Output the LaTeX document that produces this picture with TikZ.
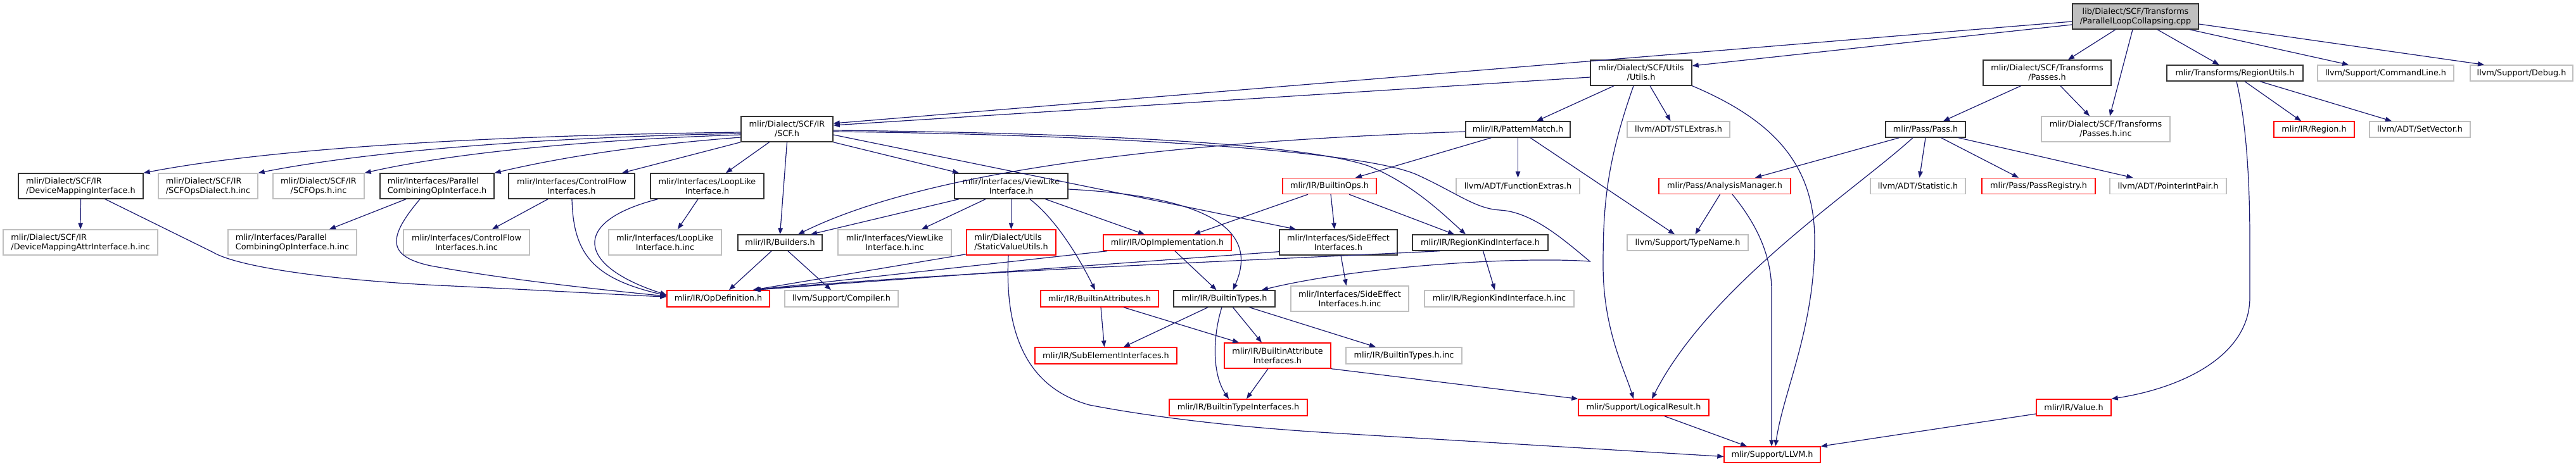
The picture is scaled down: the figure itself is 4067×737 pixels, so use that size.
\documentclass[tikz,border=0pt]{standalone}
\usepackage{fontspec}
\setmainfont{DejaVu Sans}
\usetikzlibrary{arrows.meta}
\definecolor{mblue}{HTML}{191970}
\definecolor{gborder}{HTML}{BFBFBF}
\newcommand{\fsz}{\fontsize{12.8pt}{15pt}\selectfont}
\newcommand{\mknode}[7]{\node[#1,minimum width=#5pt,minimum height=#6pt] (#2) at (#3,#4) {#7};}
\tikzset{
  basebox/.style={rectangle, inner sep=0pt, font=\fsz, text=black, line width=1.4pt, align=center},
  nb/.style={basebox, draw=black!80},
  ng/.style={basebox, draw=gborder},
  nr/.style={basebox, draw=red},
  nm/.style={basebox, draw=black!80, fill=gborder},
  lft/.style={align=left},
  edge/.style={draw=mblue, line width=1.2pt, -{Triangle[length=10pt,width=7.5pt]}},
}
\begin{document}
\begin{tikzpicture}[x=1pt,y=-1pt]
\fill[white] (0,0) rectangle (4067,737);
\useasboundingbox (0,0) rectangle (4067,737);
% rank 0
\mknode{nm}{main}{3371.5}{26}{199}{40}{lib/Dialect/SCF/Transforms\\/ParallelLoopCollapsing.cpp}
% rank 1
\mknode{nb}{utils}{2591}{115}{160}{40}{mlir/Dialect/SCF/Utils\\/Utils.h}
\mknode{nb}{passes}{3232}{115}{202}{40}{mlir/Dialect/SCF/Transforms\\/Passes.h}
\mknode{nb}{regutils}{3528.5}{115.5}{215}{25}{mlir/Transforms/RegionUtils.h}
\mknode{ng}{cmdline}{3766.5}{115.5}{215}{25}{llvm/Support/CommandLine.h}
\mknode{ng}{debug}{3981}{115.5}{162}{25}{llvm/Support/Debug.h}
% rank 2
\mknode{nb}{scf}{1242.5}{204}{145}{40}{mlir/Dialect/SCF/IR\\/SCF.h}
\mknode{nb}{pmatch}{2396.5}{204.5}{165}{25}{mlir/IR/PatternMatch.h}
\mknode{ng}{stl}{2650}{204.5}{162}{25}{llvm/ADT/STLExtras.h}
\mknode{nb}{pass}{3040}{204.5}{126}{25}{mlir/Pass/Pass.h}
\mknode{ng}{passinc}{3324.5}{204}{203}{40}{mlir/Dialect/SCF/Transforms\\/Passes.h.inc}
\mknode{nr}{region}{3653.5}{204.5}{127}{25}{mlir/IR/Region.h}
\mknode{ng}{setvec}{3820.5}{204.5}{159}{25}{llvm/ADT/SetVector.h}
% rank 3
\mknode{nb,lft}{devmap}{127.5}{294}{197}{40}{mlir/Dialect/SCF/IR\\/DeviceMappingInterface.h}
\mknode{ng,lft}{opsdialect}{328.5}{294}{157}{40}{mlir/Dialect/SCF/IR\\/SCFOpsDialect.h.inc}
\mknode{ng}{scfops}{503}{294}{144}{40}{mlir/Dialect/SCF/IR\\/SCFOps.h.inc}
\mknode{nb,lft}{parcomb}{690}{294}{180}{40}{mlir/Interfaces/Parallel\\CombiningOpInterface.h}
\mknode{nb}{ctrlflow}{902.5}{294}{199}{40}{mlir/Interfaces/ControlFlow\\Interfaces.h}
\mknode{nb}{looplike}{1116.5}{294}{179}{40}{mlir/Interfaces/LoopLike\\Interface.h}
\mknode{nb}{viewlike}{1596.5}{294}{179}{40}{mlir/Interfaces/ViewLike\\Interface.h}
\mknode{nr}{bops}{2099}{294}{148}{25}{mlir/IR/BuiltinOps.h}
\mknode{ng}{fext}{2396.5}{294}{195}{25}{llvm/ADT/FunctionExtras.h}
\mknode{nr}{amgr}{2723}{294}{208}{25}{mlir/Pass/AnalysisManager.h}
\mknode{ng}{stat}{3028}{294}{150}{25}{llvm/ADT/Statistic.h}
\mknode{nr}{preg}{3218.5}{294}{179}{25}{mlir/Pass/PassRegistry.h}
\mknode{ng}{pip}{3423}{294}{184}{25}{llvm/ADT/PointerIntPair.h}
% rank 4
\mknode{ng,lft}{devmapinc}{127}{383}{244}{40}{mlir/Dialect/SCF/IR\\/DeviceMappingAttrInterface.h.inc}
\mknode{ng,lft}{parcombinc}{461.5}{383}{203}{40}{mlir/Interfaces/Parallel\\CombiningOpInterface.h.inc}
\mknode{ng}{ctrlflowinc}{736.5}{383}{199}{40}{mlir/Interfaces/ControlFlow\\Interfaces.h.inc}
\mknode{ng}{looplikeinc}{1050}{383}{178}{40}{mlir/Interfaces/LoopLike\\Interface.h.inc}
\mknode{nb}{builders}{1231.5}{383.5}{133}{25}{mlir/IR/Builders.h}
\mknode{ng}{viewlikeinc}{1412.5}{383}{179}{40}{mlir/Interfaces/ViewLike\\Interface.h.inc}
\mknode{nr,lft}{svu}{1596.5}{383}{141}{40}{mlir/Dialect/Utils\\/StaticValueUtils.h}
\mknode{nr}{opimpl}{1843}{383.5}{202}{25}{mlir/IR/OpImplementation.h}
\mknode{nb}{sideeff}{2113}{383}{186}{40}{mlir/Interfaces/SideEffect\\Interfaces.h}
\mknode{nb}{regkind}{2337}{383.5}{214}{25}{mlir/IR/RegionKindInterface.h}
\mknode{ng}{typename}{2664.5}{383.5}{191}{25}{llvm/Support/TypeName.h}
% rank 5
\mknode{nr}{opdef}{1134}{472}{162}{26}{mlir/IR/OpDefinition.h}
\mknode{ng}{compiler}{1328.5}{472}{179}{26}{llvm/Support/Compiler.h}
\mknode{nr}{battrs}{1736}{472}{186}{26}{mlir/IR/BuiltinAttributes.h}
\mknode{nb}{btypes}{1933}{472}{160}{26}{mlir/IR/BuiltinTypes.h}
\mknode{ng}{sideeffinc}{2131}{472}{186}{40}{mlir/Interfaces/SideEffect\\Interfaces.h.inc}
\mknode{ng}{regkindinc}{2367}{472}{236}{26}{mlir/IR/RegionKindInterface.h.inc}
% rank 6
\mknode{nr}{subelem}{1746}{562}{224}{26}{mlir/IR/SubElementInterfaces.h}
\mknode{nr}{battrif}{2017}{562}{168}{40}{mlir/IR/BuiltinAttribute\\Interfaces.h}
\mknode{ng}{btypesinc}{2216.5}{562}{183}{26}{mlir/IR/BuiltinTypes.h.inc}
% rank 7
\mknode{nr}{btypeif}{1955}{644}{218}{26}{mlir/IR/BuiltinTypeInterfaces.h}
\mknode{nr}{logres}{2595}{644}{206}{26}{mlir/Support/LogicalResult.h}
\mknode{nr}{value}{3274}{644}{118}{26}{mlir/IR/Value.h}
% rank 8
\mknode{nr}{llvm}{2798}{718.5}{152}{25}{mlir/Support/LLVM.h}

% ---------- edges ----------
% main
\draw[edge] ([yshift=-8pt]main.west) -- ([yshift=9pt]scf.east);
\draw[edge] ([yshift=-13pt]main.west) -- ([yshift=11pt]utils.east);
\draw[edge] ([xshift=-31.5pt]main.south) -- ([xshift=33pt]passes.north);
\draw[edge] ([xshift=-4.5pt]main.south) -- ([xshift=6.5pt]passinc.north);
\draw[edge] ([xshift=34.5pt]main.south) -- ([xshift=-25pt]regutils.north);
\draw[edge] ([xshift=85.5pt]main.south) -- ([xshift=-58.5pt]cmdline.north);
\draw[edge] ([yshift=-12pt]main.east) -- ([xshift=-59pt]debug.north);
% utils
\draw[edge] ([yshift=-7pt]utils.west) -- ([yshift=6pt]scf.east);
\draw[edge] ([xshift=-43pt]utils.south) -- ([xshift=29.5pt]pmatch.north);
\draw[edge] ([xshift=14pt]utils.south) -- ([xshift=-12.5pt]stl.north);
\draw[edge] ([xshift=-12pt]utils.south) .. controls (2535,260) and (2531,330) .. (2531,420) .. controls (2531,520) and (2565,585) .. ([xshift=-16pt]logres.north);
\draw[edge] (utils.south east) .. controls (2800,190) and (2865,260) .. (2865,380) .. controls (2865,520) and (2815,620) .. ([xshift=5pt]llvm.north);
% passes
\draw[edge] ([xshift=-41.5pt]passes.south) -- ([xshift=28pt]pass.north);
\draw[edge] ([xshift=21pt]passes.south) -- ([xshift=-25.5pt]passinc.north);
% regutils
\draw[edge] ([xshift=15.5pt]regutils.south) -- ([xshift=-20.5pt]region.north);
\draw[edge] ([xshift=39.5pt]regutils.south) -- ([xshift=-44.5pt]setvec.north);
\draw[edge] ([xshift=2.5pt]regutils.south) .. controls (3548,200) and (3552,300) .. (3552,380) -- (3552,470) .. controls (3552,560) and (3450,612) .. (value.north east);
% scf
\draw[edge] ([yshift=-5pt]scf.west) .. controls (700,215) and (400,240) .. (devmap.north east);
\draw[edge] ([yshift=-7pt]scf.west) .. controls (800,218) and (550,245) .. (opsdialect.north east);
\draw[edge] ([yshift=-9pt]scf.west) .. controls (900,222) and (700,245) .. (scfops.north east);
\draw[edge] ([yshift=-13pt]scf.west) .. controls (1000,230) and (880,250) .. (parcomb.north east);
\draw[edge] (scf.south west) -- ([xshift=79.5pt]ctrlflow.north);
\draw[edge] ([xshift=-28pt]scf.south) -- ([xshift=29.5pt]looplike.north);
\draw[edge] (scf.south) -- (builders.north);
\draw[edge] (scf.south east) -- ([xshift=-82.5pt]viewlike.north);
\draw[edge] ([yshift=-9pt]scf.east) -- ([xshift=-67pt]sideeff.north);
\draw[edge] ([yshift=-2pt]scf.east) .. controls (1700,210) and (2050,225) .. (2160,262) .. controls (2230,290) and (2280,340) .. ([xshift=-23pt]regkind.north);
\draw[edge] ([yshift=-4pt]scf.east) .. controls (1700,212) and (2150,235) .. (2239,277) .. controls (2300,305) and (2330,330) .. (2368,332) .. controls (2420,335) and (2470,380) .. (2510,413) .. controls (2400,405) and (2150,420) .. ([xshift=59pt]btypes.north);
% pmatch
\draw[edge] ([yshift=-3.5pt]pmatch.west) .. controls (1900,222) and (1480,262) .. ([xshift=28.5pt]builders.north);
\draw[edge] ([xshift=-42pt]pmatch.south) -- ([xshift=41pt]bops.north);
\draw[edge] (pmatch.south) -- (fext.north);
\draw[edge] ([xshift=19.5pt]pmatch.south) -- ([xshift=-20.5pt]typename.north);
% rank 3 left
\draw[edge] (devmap.south) -- (devmapinc.north);
\draw[edge] ([xshift=38.5pt]devmap.south) -- (335,398) .. controls (380,425) and (550,445) .. (715,452) .. controls (900,461) and (1000,467) .. ([yshift=3pt]opdef.west);
\draw[edge] ([xshift=-49pt]parcomb.south) -- ([xshift=58.5pt]parcombinc.north);
\draw[edge] ([xshift=-27pt]parcomb.south) .. controls (612,375) and (610,405) .. (680,420) .. controls (800,442) and (950,458) .. ([yshift=4pt]opdef.west);
\draw[edge] ([xshift=-37.5pt]ctrlflow.south) -- ([xshift=40.5pt]ctrlflowinc.north);
\draw[edge] ([xshift=0.5pt]ctrlflow.south) .. controls (905,400) and (935,440) .. ([yshift=5pt]opdef.west);
\draw[edge] ([xshift=-14.5pt]looplike.south) -- ([xshift=20pt]looplikeinc.north);
\draw[edge] ([xshift=-78pt]looplike.south) .. controls (900,350) and (910,420) .. ([yshift=6pt]opdef.west);
% viewlike
\draw[edge] ([xshift=-82.5pt]viewlike.south) -- ([xshift=48.5pt]builders.north);
\draw[edge] ([xshift=-40.5pt]viewlike.south) -- ([xshift=42.5pt]viewlikeinc.north);
\draw[edge] (viewlike.south) -- (svu.north);
\draw[edge] ([xshift=29.5pt]viewlike.south) .. controls (1665,345) and (1700,400) .. ([xshift=-7pt]battrs.north);
\draw[edge] ([xshift=54pt]viewlike.south) -- ([xshift=-36pt]opimpl.north);
\draw[edge] ([yshift=-5pt]viewlike.east) .. controls (1900,310) and (1990,360) .. ([xshift=13.5pt]btypes.north);
% rank 4
\draw[edge] ([yshift=2pt]svu.south west) -- ([xshift=54.5pt]opdef.north);
\draw[edge] ([xshift=-4.5pt]svu.south) .. controls (1585,540) and (1630,615) .. (1720,640) .. controls (1850,665) and (2000,678) .. (2100,684) -- ([yshift=-3pt]llvm.west);
\draw[edge] ([xshift=-95pt]opimpl.south) -- ([xshift=55pt]opdef.north);
\draw[edge] ([xshift=12pt]opimpl.south) -- ([xshift=-12.5pt]btypes.north);
\draw[edge] ([xshift=-13.5pt]builders.south) -- ([xshift=17pt]opdef.north);
\draw[edge] ([xshift=12.5pt]builders.south) -- ([xshift=-16.5pt]compiler.north);
\draw[edge] ([yshift=6pt]sideeff.south west) -- ([xshift=56pt]opdef.north);
\draw[edge] ([xshift=4pt]sideeff.south) -- ([xshift=-5.5pt]sideeffinc.north);
\draw[edge] ([xshift=-64pt]regkind.south) .. controls (1900,415) and (1500,430) .. ([xshift=57pt]opdef.north);
\draw[edge] ([xshift=4.5pt]regkind.south) -- ([xshift=-7pt]regkindinc.north);
% bops
\draw[edge] ([xshift=-34pt]bops.south) -- ([xshift=42pt]opimpl.north);
\draw[edge] ([xshift=2pt]bops.south) -- ([xshift=-6pt]sideeff.north);
\draw[edge] ([xshift=31pt]bops.south) -- ([xshift=-41pt]regkind.north);
% amgr
\draw[edge] ([xshift=-7.5pt]amgr.south) -- ([xshift=12pt]typename.north);
\draw[edge] ([xshift=12pt]amgr.south) .. controls (2770,350) and (2797,400) .. (2797,460) -- ([xshift=-1pt]llvm.north);
% pass
\draw[edge] ([xshift=-41.5pt]pass.south) -- ([xshift=48pt]amgr.north);
\draw[edge] ([xshift=-20pt]pass.south) .. controls (2930,300) and (2700,450) .. ([xshift=13pt]logres.north);
\draw[edge] (pass.south) -- ([xshift=2.5pt]stat.north);
\draw[edge] ([xshift=24.5pt]pass.south) -- ([xshift=-31.5pt]preg.north);
\draw[edge] ([xshift=52pt]pass.south) -- ([xshift=-55.5pt]pip.north);
% btypes / battrs
\draw[edge] ([xshift=-26pt]btypes.south) -- ([xshift=28pt]subelem.north);
\draw[edge] ([xshift=13.5pt]btypes.south) -- ([xshift=-25pt]battrif.north);
\draw[edge] ([xshift=-4pt]btypes.south) .. controls (1915,530) and (1913,590) .. ([xshift=-15pt]btypeif.north);
\draw[edge] ([xshift=39.5pt]btypes.south) -- ([xshift=-44.5pt]btypesinc.north);
\draw[edge] ([xshift=2pt]battrs.south) -- ([xshift=-2.5pt]subelem.north);
\draw[edge] ([xshift=38pt]battrs.south) -- ([xshift=-61pt]battrif.north);
\draw[edge] ([xshift=-15pt]battrif.south) -- ([xshift=13pt]btypeif.north);
\draw[edge] (battrif.south east) -- (logres.north west);
% bottom
\draw[edge] ([xshift=33pt]logres.south) -- ([xshift=-40pt]llvm.north);
\draw[edge] ([yshift=-10pt]value.west) -- (llvm.north east);
\end{tikzpicture}
\end{document}
